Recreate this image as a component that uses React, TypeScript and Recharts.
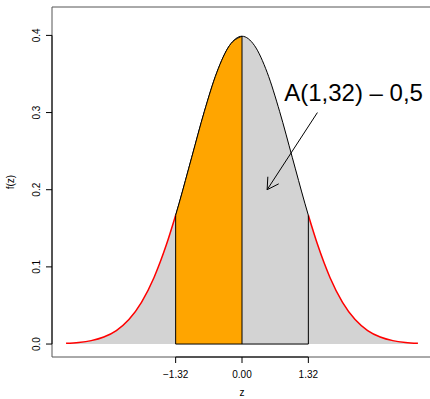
import React from 'react';
import { ComposedChart, Area, Line, XAxis, YAxis, ReferenceLine, ReferenceArea, ReferenceDot } from 'recharts';

document.body.style.margin = '0';

// standard normal density, sampled along z
const zValues = [-3.5, -3.25, -3, -2.75, -2.5, -2.25, -2, -1.75, -1.5, -1.32, -1.25, -1, -0.75, -0.5, -0.25, 0,
    0.25, 0.5, 0.75, 1, 1.25, 1.32, 1.5, 1.75, 2, 2.25, 2.5, 2.75, 3, 3.25, 3.5];
const fzValues = [0.0009, 0.002, 0.0044, 0.0091, 0.0175, 0.0317, 0.054, 0.0863, 0.1295, 0.1669, 0.1826, 0.242, 0.3011, 0.3521, 0.3867, 0.3989,
    0.3867, 0.3521, 0.3011, 0.242, 0.1826, 0.1669, 0.1295, 0.0863, 0.054, 0.0317, 0.0175, 0.0091, 0.0044, 0.002, 0.0009];

const cutLow = -1.32;
const cutMid = 0;
const cutHigh = 1.32;

const xTicks = [-1.32, 0, 1.32];
const yTicks = [0, 0.1, 0.2, 0.3, 0.4];

const noteText = 'A(1,32) \u2013 0,5';
const notePos = { z: 2.22, f: 0.326 };
const arrowFrom = { z: 1.5, f: 0.3 };
const arrowTo = { z: 0.5, f: 0.2 };

const X_DOMAIN: [number, number] = [-3.78, 3.78];
const Y_DOMAIN: [number, number] = [-0.0168, 0.4368];

const FONT = '"Liberation Sans", Arial, Helvetica, sans-serif';
const txt = { fontFamily: FONT };

const densityAt = (z: number) => fzValues[zValues.indexOf(z)];

const rows = zValues.map((z, i) => ({
    z,
    f: fzValues[i],
    // red curve only on the tails, the band has its own black outline
    tailL: z <= cutLow ? fzValues[i] : null,
    tailR: z >= cutHigh ? fzValues[i] : null,
    mid: z >= cutLow && z <= cutHigh ? fzValues[i] : null,
    left: z >= cutLow && z <= cutMid ? fzValues[i] : null,
}));

// outline of the shaded band: two sides and the base
const bandEdges = [
    { z: cutLow, f: densityAt(cutLow) },
    { z: cutLow, f: 0 },
    { z: cutHigh, f: 0 },
    { z: cutHigh, f: densityAt(cutHigh) },
];
const midEdge = [
    { z: cutMid, f: 0 },
    { z: cutMid, f: densityAt(cutMid) },
];

const fmtX = (v: number) => (v < 0 ? '\u2212' + Math.abs(v).toFixed(2) : v.toFixed(2));

const YTick = (props: any) => {
    const { y, payload } = props;
    return (
        <text x={40} y={y} transform={`rotate(-90, 40, ${y})`} textAnchor="middle" fontSize={10} style={txt} fill="#000">
            {Number(payload.value).toFixed(1)}
        </text>
    );
};

const XTick = (props: any) => {
    const { x, payload } = props;
    return (
        <text x={x} y={378} textAnchor="middle" fontSize={10} style={txt} fill="#000">
            {fmtX(Number(payload.value))}
        </text>
    );
};

// straight arrow with an open head at (x2, y2)
const ArrowShape = (props: any) => {
    const { x1, y1, x2, y2 } = props;
    const ang = Math.atan2(y1 - y2, x1 - x2);
    const len = 13;
    const a1 = ang + Math.PI / 6;
    const a2 = ang - Math.PI / 6;
    return (
        <g stroke="#000" strokeWidth={1} fill="none">
            <line x1={x1} y1={y1} x2={x2} y2={y2} />
            <line x1={x2} y1={y2} x2={x2 + len * Math.cos(a1)} y2={y2 + len * Math.sin(a1)} />
            <line x1={x2} y1={y2} x2={x2 + len * Math.cos(a2)} y2={y2 + len * Math.sin(a2)} />
        </g>
    );
};

const NoteShape = (props: any) => {
    const { cx, cy } = props;
    return (
        <text x={cx} y={cy} textAnchor="middle" dominantBaseline="central" fontSize={24} style={txt} fill="#000">
            {noteText}
        </text>
    );
};

export default function App() {
    return (
        <div style={{ position: 'relative', width: 430, height: 399, overflow: 'hidden', background: '#fff' }}>
            <ComposedChart width={432} height={399} data={rows} margin={{ top: 7, right: 0, bottom: 0, left: 0 }}>
                <XAxis
                    dataKey="z"
                    type="number"
                    domain={X_DOMAIN}
                    allowDataOverflow
                    ticks={xTicks}
                    interval={0}
                    height={42}
                    tickSize={6}
                    axisLine={false}
                    tickLine={{ stroke: '#000' }}
                    tick={<XTick />}
                />
                <YAxis
                    type="number"
                    domain={Y_DOMAIN}
                    allowDataOverflow
                    ticks={yTicks}
                    interval={0}
                    width={52}
                    tickSize={6}
                    axisLine={false}
                    tickLine={{ stroke: '#000' }}
                    tick={<YTick />}
                />
                <ReferenceArea x1={X_DOMAIN[0]} x2={X_DOMAIN[1]} y1={Y_DOMAIN[0]} y2={Y_DOMAIN[1]} fill="none" fillOpacity={0} stroke="#555" ifOverflow="visible" />
                <ReferenceLine segment={[{ x: X_DOMAIN[0], y: 0 }, { x: X_DOMAIN[0], y: 0.4 }]} stroke="#000" ifOverflow="visible" />
                <ReferenceLine segment={[{ x: cutLow, y: Y_DOMAIN[0] }, { x: cutHigh, y: Y_DOMAIN[0] }]} stroke="#000" ifOverflow="visible" />

                <Area dataKey="f" type="monotone" baseValue={0} fill="#d3d3d3" fillOpacity={1} stroke="none" isAnimationActive={false} />
                <Area dataKey="mid" type="monotone" baseValue={0} fill="#d3d3d3" fillOpacity={1} stroke="#000" strokeWidth={1} isAnimationActive={false} />
                <Area dataKey="left" type="monotone" baseValue={0} fill="#ffa500" fillOpacity={1} stroke="#000" strokeWidth={1} isAnimationActive={false} />
                <Line dataKey="tailL" type="monotone" stroke="#ff0000" strokeWidth={1.5} dot={false} isAnimationActive={false} />
                <Line dataKey="tailR" type="monotone" stroke="#ff0000" strokeWidth={1.5} dot={false} isAnimationActive={false} />
                <Line data={bandEdges} dataKey="f" type="linear" stroke="#000" strokeWidth={1} dot={false} isAnimationActive={false} />
                <Line data={midEdge} dataKey="f" type="linear" stroke="#000" strokeWidth={1} dot={false} isAnimationActive={false} />

                <ReferenceLine segment={[{ x: arrowFrom.z, y: arrowFrom.f }, { x: arrowTo.z, y: arrowTo.f }]} shape={ArrowShape} ifOverflow="visible" />
                <ReferenceDot x={notePos.z} y={notePos.f} r={0} shape={NoteShape} ifOverflow="visible" />
            </ComposedChart>
            <svg width={430} height={399} style={{ position: 'absolute', left: 0, top: 0, pointerEvents: 'none' }}>
                <text x={14} y={182} transform="rotate(-90, 14, 182)" textAnchor="middle" fontSize={10} style={txt} fill="#000">f(z)</text>
                <text x={242} y={396} textAnchor="middle" fontSize={10} style={txt} fill="#000">z</text>
            </svg>
        </div>
    );
}
